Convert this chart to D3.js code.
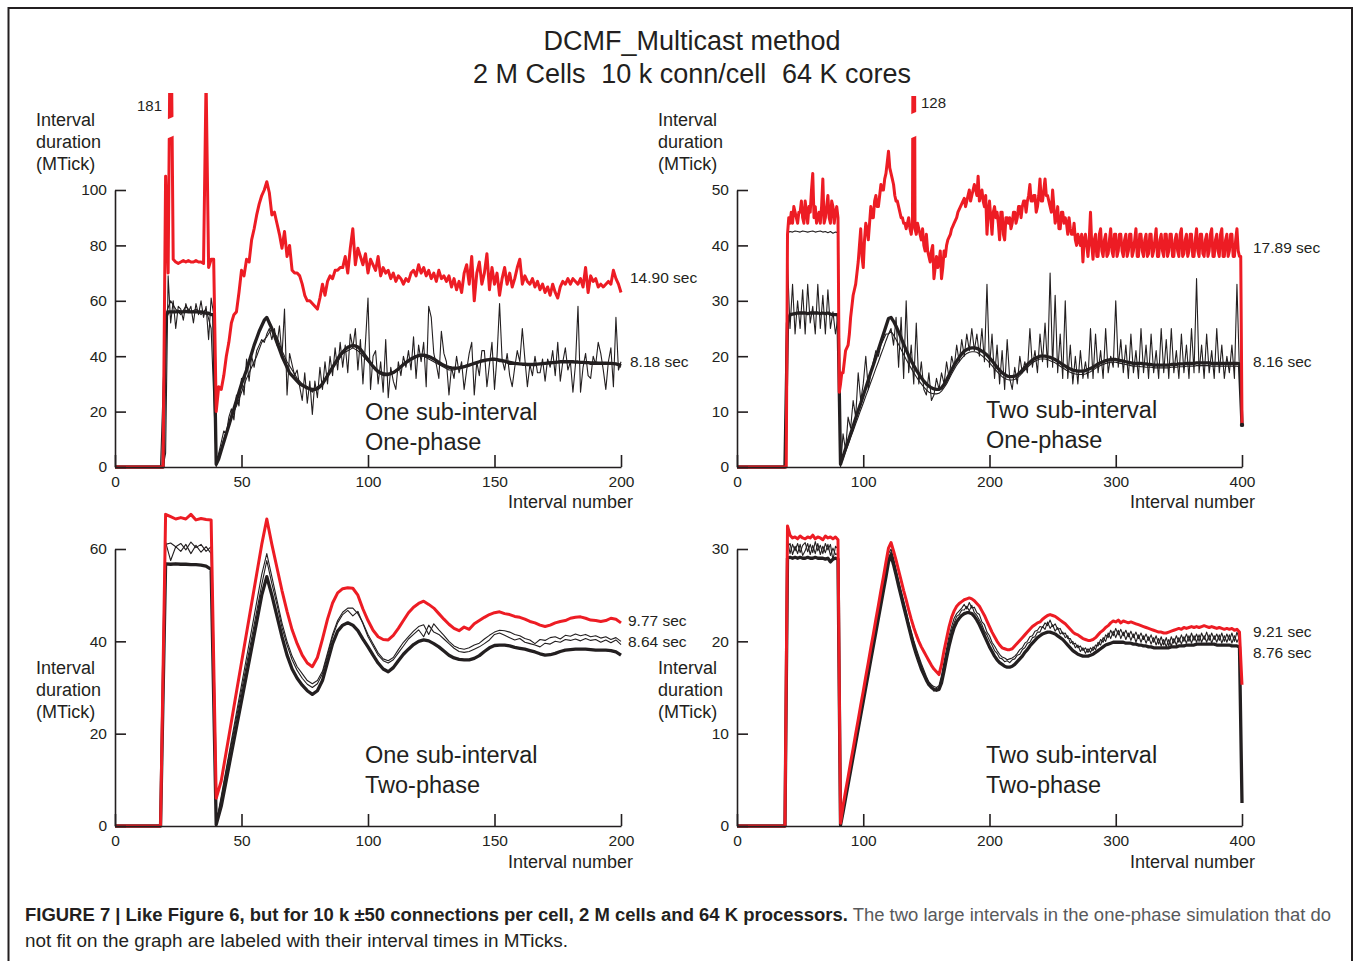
<!DOCTYPE html>
<html><head><meta charset="utf-8">
<script src="https://cdn.jsdelivr.net/npm/d3@7"></script>
<style>
html,body{margin:0;padding:0;background:#fff;}
svg{display:block;}
text{font-family:"Liberation Sans",Arial,Helvetica,sans-serif;fill:#231f20;}
</style></head><body>
<svg id="chart" width="1355" height="961"></svg>
<script>
// ---------- DATA ----------
const titleLines = ["DCMF_Multicast method", "2 M Cells\u2002\u200a10 k conn/cell\u2002\u200a64 K cores"];
const yLabelLines = ["Interval", "duration", "(MTick)"];
const xLabel = "Interval number";
const panelNotes = [["One sub-interval","One-phase"],["Two sub-interval","One-phase"],["One sub-interval","Two-phase"],["Two sub-interval","Two-phase"]];
const endLabels = [["14.90 sec","8.18 sec"],["17.89 sec","8.16 sec"],["9.77 sec","8.64 sec"],["9.21 sec","8.76 sec"]];
const offChartLabels = ["181","128"];
const xTicks200 = [0,50,100,150,200];
const xTicks400 = [0,100,200,300,400];
const yTicksP1 = [0,20,40,60,80,100];
const yTicksP2 = [0,10,20,30,40,50];
const yTicksP3 = [0,20,40,60];
const yTicksP4 = [0,10,20,30];
const captionBold = "FIGURE 7 | Like Figure 6, but for 10 k \u00b150 connections per cell, 2 M cells and 64 K processors.";
const captionRest1 = " The two large intervals in the one-phase simulation that do";
const captionLine2 = "not fit on the graph are labeled with their interval times in MTicks.";

// Panel 1: one sub-interval, one-phase (interval step 1)
const p1Red = [
0,0,0,0,0,0,0,0,0,0,0,0,0,0,0,0,0,0,0,0,
105,70,181,75,74,73.5,74,74.5,74,74.5,74,74,74.5,74,74,73.5,140,72,75,75,
20,29,28,33,40,45,52,55,56,63,71,69,75,74,82,86,91,95,98,100,
103,99,91,92,88,84,79,85,76,80,71,70,70,69,66,62,60,60,59,58,
57,61,66,62,67,69,68,71,71,72,72,76,70,79,86,73,79,76,73,77,
70,75,73,71,76,69,72,70,71,68,70,67,69,68,66,68,67,70,71,69,
73,70,72,69,71,68,70,67,71,68,69,67,69,65,68,64,67,63,70,73,
66,76,60,70,74,66,70,77,64,72,66,70,62,68,72,66,70,65,68,72,
75,66,69,67,66,68,65,67,64,66,63,65,62,66,63,61,65,67,66,68,
66,68,67,66,68,65,72,63,69,67,68,65,66,65,66,67,66,71,68,66,
63];
const p1Thick = [
0,0,0,0,0,0,0,0,0,0,0,0,0,0,0,0,0,0,0,0,
54,56,56,56,56,56.2,56,56,56.2,56,56,56,56,56,56,55.8,55.5,55.5,55,55,
1,3,6,9,12,15,18,21,24,27,30,32.5,35,38,41,44,46.5,49,51,53,
54,52,50,47.5,45,42.5,40,38,36,34,33,32,31,30,29.5,29,28.5,28.2,28,28,
28.3,29,30,31.5,33,34.5,36,37.5,39,40.5,41.5,42.5,43.2,43.6,43.8,43.7,43.3,42.5,41.3,40,
38.7,37.5,36.3,35.3,34.5,34,33.7,33.5,33.5,33.7,34.1,34.7,35.4,36.2,37,37.7,38.4,39,39.5,39.9,
40.2,40.4,40.4,40.2,39.9,39.5,39,38.4,37.8,37.2,36.7,36.3,36,35.8,35.7,35.7,35.8,36,36.2,36.5,
36.8,37.1,37.4,37.7,38,38.3,38.5,38.7,38.8,38.9,38.9,38.8,38.6,38.4,38.2,38,37.8,37.6,37.4,37.3,
37.2,37.1,37.1,37,37,37,37,37.1,37.2,37.3,37.4,37.5,37.6,37.7,37.8,37.9,38,38,38,38,
38,38,37.9,37.9,37.8,37.8,37.7,37.7,37.6,37.6,37.6,37.5,37.5,37.5,37.5,37.4,37.4,37.3,37.2,37,
36.5];
const p1ThinA = [
0,0,0,0,0,0,0,0,0,0,0,0,0,0,0,0,0,0,0,0,
5,69,52,60,50,58,57,53,59,56,58,52,59,55,60,54,58,46,61,55,
0,5,9,13,12,18,21,17,26,22,32,26,39,31,40,36,42,44,46,45,
48,50,46,50,44,51,40,57,26,41,37,33,35,29,24,34,23,31,19,31,
25,36,28,38,30,40,33,43,35,45,36,44,34,48,43,50,35,46,30,45,
61,28,40,42,30,38,27,46,25,36,31,28,38,33,40,36,42,35,47,32,
44,38,45,29,58,54,41,37,32,49,41,38,26,36,32,40,34,38,28,35,
41,45,26,38,33,42,42,29,37,45,28,40,59,39,35,41,33,29,36,42,
38,50,39,29,37,33,40,34,34,39,31,39,36,42,33,45,31,38,43,35,
38,27,37,58,27,36,41,33,32,40,37,45,41,35,28,38,43,29,54,35,
38];
// interval step 2
const p1ThinB = [
0,0,0,0,0,0,0,0,0,0,
55,60,57,55,58,56,57,55,57,50,
2,7,13,18,22,27,32,36,40,45,
47,50,47,42,38,35,32,30,29,27,
29,30,33,36,38,41,42,43,42,40,
38,36,34,33,33,34,35,37,38,39,
40,40,39,38,37,36,35,35,36,36,
37,37,38,38,39,39,38,38,37,37,
37,37,37,37,37,37,38,38,38,38,
38,38,38,38,37,37,37,37,37,37,
36];

// Panel 2: two sub-interval, one-phase
// red: interval step 1
const p2Red = [
0,0,0,0,0,0,0,0,0,0,0,0,0,0,0,0,0,0,0,0,
0,0,0,0,0,0,0,0,0,0,0,0,0,0,0,0,0,0,0,0,
42,45,44,46,44,47,46,45,44,46,46,48,45,44,48,46,44,47,46,50,
53,45,47,44,45,46,44,47,52,44,45,47,49,45,44,48,47,44,46,47,
45,13.5,15,17,17,19,21,21.5,22,24,27,29,31,32,33,35,37,40,43,38,
36,41,44,43,41,44,47,45,45,48,49,47,47,49,51,50,50,52,53,55,
57,54,53,52,51,49,48,48,47,46,45,45,44,44,43,44,45,43,42,44,
128,43,42,44,43,42,41,43,40,39,42,39,38,37,39,40,34,36,38,36,
37,39,34,36,39,38,40,41,41.5,42,43,43.5,44,44.5,45,46,46.5,47,47.5,48,
48.5,47,48,49,50,48,49,50,51,50,49,52.5,48,49,50,48,47,49,42,46,
48,45,42,46,47,45,46,44,41,46,46,42,41,45,45,44,45,43,44,46,
46,44,45,47,47,45,47,48,48,46,48,49,51,48,48,49,49,46,47,49,
52,48,48,50,52,49,49,48,47,46,50,47,44,45,47,43,43,46,46,44,
45,44,42,45,43,42,42,44,41,40,42,41,40,42,37,41,42,40,38,41,
46,40,37.5,41,42,38,38,42,43,39,38,41,42,38,38.5,41,43,39,38,42,
42,38,39,42,42,39,38,41,42,38,39,42,42,38,39,41,43,38,38,42,
42,39,38,41,42,38,38.5,42,42,38,39,41,43,38,38,41,42,39,38,42,
42,38,39,42,42,38,38,41,42,39,38,42,43,38,38.5,41,42,38,39,42,
42,38,38,41,43,39,38,42,42,38.5,38,41,42,38,39,42,43,38,38,41,
42,39,38,42,43,38,38,41,42,38,39,42,42,38,38,41,43,39,38,38,
7.7];
// black series: interval step 2
const p2Thick = [
0,0,0,0,0,0,0,0,0,0,0,0,0,0,0,0,0,0,0,0,
26,27.5,27.6,27.7,27.8,27.8,27.8,27.8,27.7,27.8,27.8,27.8,27.8,27.7,27.8,27.7,27.8,27.6,27.5,27.5,
27.5,0.5,1.9,3.3,4.6,6,7.4,8.8,10.2,11.5,12.9,14.3,15.7,17.1,18.4,19.8,21.2,22.6,24,25.4,
26.8,27,26.3,25.4,24.4,23.3,22.2,21.1,20.1,19.2,18.3,17.5,16.8,16.1,15.5,15,14.6,14.3,14.1,14,
14,14.3,14.9,15.7,16.6,17.5,18.4,19.1,19.8,20.4,20.9,21.2,21.4,21.5,21.5,21.4,21.2,20.9,20.6,20.2,
19.7,19.2,18.6,18,17.5,17,16.7,16.4,16.3,16.3,16.4,16.6,17,17.5,18,18.5,18.9,19.3,19.6,19.8,
20,20,20,19.9,19.8,19.6,19.4,19.1,18.8,18.5,18.2,17.9,17.7,17.5,17.4,17.3,17.3,17.3,17.4,17.6,
17.8,18,18.3,18.6,18.8,19,19.2,19.3,19.4,19.4,19.4,19.3,19.2,19.1,19,18.9,18.8,18.7,18.7,18.7,
18.7,18.6,18.6,18.5,18.5,18.4,18.4,18.4,18.4,18.4,18.4,18.4,18.5,18.5,18.5,18.6,18.6,18.6,18.7,18.7,
18.7,18.7,18.8,18.8,18.8,18.8,18.8,18.8,18.7,18.7,18.7,18.7,18.7,18.7,18.7,18.7,18.7,18.7,18.7,18.6,
7.6];
const p2ThinA = [
0,0,0,0,0,0,0,0,0,0,0,0,0,0,0,0,0,0,0,0,
37,25,33,24,30,25,32,24,33,26,29,24,33,25,31,24,32,25,28,24,
27,0,6,3,9,7,12,9,17,12,15,20,14,17,19,21,20,22,23,24,
24,25,22,27,18,27,16,30,17,22,15,26,15,19,14,13,17,12,13,16,
14,17,15,19,16,20,18,22,19,23,20,24,21,25,21,24,20,25,19,33,
18,24,16,22,15,21,14,23,16,14,18,15,20,17,19,17,25,18,21,17,
24,19,26,18,35,18,31,17,24,16,30,16,22,15,20,15,21,16,19,16,
25,16,24,17,21,16,25,17,20,18,30,18,23,17,22,16,24,17,21,16,
25,17,22,16,24,17,21,16,25,17,23,16,25,17,21,16,24,17,22,16,
25,17,34,17,22,16,24,17,21,16,25,17,22,16,20,17,22,16,33,17,
7.6];
const p2ThinB = [
0,0,0,0,0,0,0,0,0,0,0,0,0,0,0,0,0,0,0,0,
42.3,42.5,42.4,42.6,42.5,42.4,42.6,42.5,42.4,42.5,42.6,42.4,42.5,42.6,42.4,42.5,42.3,42.5,42.2,42.4,
42.3,0.5,1.5,2.8,4,5.3,6.5,7.8,9,10.3,11.5,12.8,14,15.3,16.5,17.8,19,20.3,21.5,22.8,
24,24.5,23.8,23,22.1,21.2,20.3,19.4,18.6,17.8,17,16.3,15.6,15,14.4,13.9,13.5,13.3,13.2,13.2,
13.3,13.7,14.3,15,15.9,16.8,17.6,18.4,19,19.6,20.1,20.5,20.7,20.8,20.8,20.7,20.4,20.1,19.7,19.3,
18.8,18.3,17.7,17.2,16.7,16.3,16,15.8,15.7,15.7,15.8,16.1,16.5,17,17.5,18,18.4,18.8,19.1,19.3,
19.5,19.5,19.5,19.4,19.2,19,18.8,18.5,18.2,17.9,17.6,17.3,17.1,16.9,16.8,16.7,16.7,16.7,16.8,17,
17.2,17.5,17.8,18.1,18.3,18.5,18.7,18.8,18.9,18.9,18.9,18.8,18.7,18.6,18.5,18.4,18.3,18.2,18.2,18.2,
18.1,18.1,18,18,18,17.9,17.9,17.9,17.9,17.9,17.9,17.9,18,18,18,18.1,18.1,18.1,18.2,18.2,
18.2,18.2,18.3,18.3,18.3,18.3,18.3,18.3,18.2,18.2,18.2,18.2,18.2,18.2,18.2,18.2,18.2,18.2,18.2,18.1,
7.6];

// Panel 3: one sub-interval, two-phase (interval step 2)
const p3Red = [
0,0,0,0,0,0,0,0,0,0,
67.5,67,66.5,66.8,66.5,67.5,66.3,66.6,66.4,66.3,
6,9.8,16.2,22.6,29,35.4,41.8,48.2,54.6,61,
66.5,61,56,51,46.5,42.5,39.5,37,35.3,34.5,
36.5,40.5,44.8,48.3,50.5,51.4,51.6,51.5,50,47,
44.5,42.4,41,40.4,40.3,41.3,42.8,44.5,46.2,47.4,
48.2,48.7,48,47.2,46,44.8,43.7,42.8,42.3,43.1,
42.6,43.8,44.5,45.2,45.8,46.2,46.4,46,45.8,45.4,
45.2,44.8,44.3,44,43.5,43.2,43.5,44,44.3,44.5,
45,45.2,45.3,45,44.6,44.5,44.3,44.5,45,44.8,
44];
const p3Thick = [
0,0,0,0,0,0,0,0,0,0,
56.8,56.7,56.8,56.7,56.7,56.6,56.6,56.5,56.3,55.6,
0.3,4.3,10,15.7,21.4,27.1,32.8,38.5,44.2,50,
54,50,45.5,41,37,34,32,30.5,29.3,28.5,
29.3,31.5,35.5,39.5,42.2,43.5,44,43.5,42.3,40.5,
38.8,37,35.3,34,33.4,34.3,35.8,37.2,38.3,39.3,
40,40.3,40.1,39.5,38.8,37.9,37,36.4,36.1,36,
36,36.3,36.9,37.8,38.6,39.1,39.2,39.2,39,38.7,
38.5,38.3,38,37.7,37.3,37,37.1,37.4,37.8,38.1,
38.2,38.3,38.3,38.3,38.2,38.1,38.1,38.1,38,37.7,
37];
const p3ThinA = [
0,0,0,0,0,0,0,0,0,0,
61,61.3,60.5,61.2,59.8,61.5,60.3,61,59.5,60.5,
0.5,6.5,12.5,18.5,24.5,30.5,36.5,42.5,48.5,54.5,
59,54,49,44,40,36.8,34.5,33,31.5,30.8,
31.5,33.5,37.5,41.5,44.5,46.3,47.2,47.2,46,44,
41.5,39.5,37.5,36.2,35.8,36.5,38.2,39.8,41,42.2,
43.2,43.6,41.5,43.8,42.5,41.3,40,39,38.5,38.3,
38.6,39.2,39.6,40.5,41.3,42,42.4,42.3,42,41.5,
41.2,40.6,40.3,39.5,40.4,40.2,40.8,41,40.5,41.3,
41.1,41.6,41.2,41.5,41,41.2,40.7,41,40.4,40.8,
40];
const p3ThinB = [
0,0,0,0,0,0,0,0,0,0,
61.5,57.5,60.5,59.5,61,59,60.8,59.3,60.5,59,
0.4,6,12,17.8,23.5,29.3,35,40.7,46.5,52.3,
57.5,52.5,48,43,39.2,36,33.7,32,30.7,30,
30.8,33,37,41,44,45.8,46.7,45.5,46.5,43.8,
41,39,37,35.8,35.3,36,37.5,39,40.5,41.5,
42.5,41,43.5,42,41.5,40.5,39.5,38.5,37.8,37.6,
37.8,38.3,38.8,39.5,40.3,41.5,41.8,41.3,40.8,40.3,
40.6,39.8,39.5,39.2,38.8,39.6,39.4,40,39.8,40.4,
40.2,40.5,40.1,40.6,40.2,40.4,39.8,40.3,39.7,40.3,
39.3];

// Panel 4: two sub-interval, two-phase (interval step 2)
const p4Red = [
0,0,0,0,0,0,0,0,0,0,0,0,0,0,0,0,0,0,0,0,
32.5,31.5,31.2,31.3,31.1,31.4,31.2,31.1,31.3,31.2,31.5,31.1,31.3,31.2,31,31.4,31.2,31.3,31.1,31.3,
31,0.3,2.2,3.8,5.3,6.9,8.4,10,11.5,13.1,14.6,16.2,17.7,19.3,20.8,22.4,23.9,25.5,27,28.6,
30.1,30.7,29.8,28.8,27.7,26.6,25.5,24.5,23.4,22.4,21.5,20.7,20,19.4,18.9,18.4,17.9,17.4,17,16.7,
16.4,17.5,19,20.3,21.6,22.6,23.3,23.8,24.1,24.3,24.5,24.6,24.7,24.6,24.4,24.1,23.8,23.3,22.8,22.2,
21.6,21,20.5,20,19.6,19.3,19.2,19.1,19.1,19.2,19.5,19.8,20.1,20.4,20.7,21,21.3,21.6,21.8,22,
22.1,22.4,22.6,22.8,22.9,22.8,22.7,22.5,22.3,22.1,21.9,21.6,21.3,21,20.8,20.7,20.5,20.3,20.2,20.1,
20.1,20.2,20.4,20.7,21,21.2,21.5,21.7,22,22.2,22.1,22.3,22,22.2,22.1,22,22.1,22,21.9,21.8,
21.7,21.6,21.5,21.4,21.3,21.2,21.1,21,21,20.9,20.9,21,21.1,21.2,21.3,21.4,21.3,21.5,21.4,21.5,
21.6,21.5,21.6,21.5,21.6,21.7,21.6,21.5,21.6,21.5,21.4,21.5,21.4,21.3,21.4,21.3,21.4,21.2,21.3,21,
15.3];
const p4Thick = [
0,0,0,0,0,0,0,0,0,0,0,0,0,0,0,0,0,0,0,0,
29,29.1,29,29.1,29,29.1,29,29,29.1,29,29,29.1,29,29,29,28.9,29,28.6,28.9,29,
28.9,0.1,1.5,3,4.5,6,7.5,9,10.5,12,13.5,15,16.5,18,19.5,21,22.5,24,25.5,27,
28.6,29.3,28.3,27.2,26,24.9,23.8,22.7,21.6,20.5,19.5,18.6,17.8,17,16.4,15.8,15.3,15,14.8,14.7,
14.8,15.5,16.8,18.2,19.5,20.6,21.5,22.1,22.5,22.8,23,23.1,23.1,23,22.7,22.3,21.8,21.2,20.6,20,
19.4,18.9,18.4,18,17.7,17.5,17.3,17.2,17.2,17.3,17.5,17.8,18.1,18.4,18.8,19.1,19.5,19.8,20.1,20.4,
20.6,20.8,20.9,21,21,20.9,20.8,20.6,20.4,20.2,19.9,19.6,19.3,19,18.8,18.6,18.5,18.4,18.4,18.4,
18.5,18.6,18.8,19,19.2,19.4,19.6,19.7,19.8,19.9,19.9,19.9,19.9,19.9,19.8,19.8,19.8,19.7,19.7,19.6,
19.6,19.5,19.5,19.4,19.4,19.3,19.3,19.3,19.3,19.3,19.3,19.3,19.4,19.4,19.4,19.5,19.5,19.5,19.6,19.6,
19.6,19.6,19.7,19.7,19.7,19.7,19.7,19.7,19.7,19.7,19.6,19.6,19.6,19.6,19.6,19.6,19.5,19.5,19.5,19.4,
2.5];
const p4ThinA = [
0,0,0,0,0,0,0,0,0,0,0,0,0,0,0,0,0,0,0,0,
31,29.5,30.5,29.8,30.6,29.6,30.4,30.7,29.7,30.5,29.6,30.8,29.8,30.4,29.5,30.6,29.9,30.5,28.8,30.3,
30,0.2,1.7,3.3,4.8,6.4,7.9,9.5,11,12.6,14.1,15.7,17.2,18.8,20.3,21.9,23.4,25,26.5,28,
29.5,30,29,27.8,26.6,25.5,24.4,23.3,22.1,21.1,20.1,19.2,18.4,17.6,16.9,16.2,15.6,15.3,15.1,15,
15.2,16.3,17.8,19.2,20.6,21.6,22.5,23,23.3,23.6,24,23.5,24.2,23.6,23.7,23.1,22.9,22.1,21.8,21,
20.6,19.9,19.5,19,18.6,18.3,18.2,18,18.1,18.2,18.4,18.7,19.1,19.3,19.8,20,20.5,20.6,21.1,21.2,
21.6,21.5,22,21.7,22.3,21.6,21.9,21.3,21.4,20.8,20.9,20.3,20.3,19.7,19.8,19.3,19.5,19,19.3,18.8,
19.3,19,19.6,19.5,20.2,19.9,20.7,20.4,21.2,20.6,21.4,20.7,21.3,20.6,21.2,20.5,21.1,20.4,21,20.3,
20.9,20.2,20.8,20.1,20.7,19.9,20.6,19.7,20.5,19.6,20.4,19.5,20.5,19.8,20.6,19.9,20.7,20,20.8,20,
20.9,20.1,20.8,20,20.9,20.2,21,20.1,20.9,20.2,20.8,20.1,20.9,20,20.8,20.1,20.9,20,21,20.2,
2.5];
const p4ThinB = [
0,0,0,0,0,0,0,0,0,0,0,0,0,0,0,0,0,0,0,0,
30.2,30.6,29.4,30.3,29.5,30.5,29.3,29.8,30.6,29.4,30.4,29.5,30.6,29.4,30.3,29.6,30.5,29.3,30.1,29.4,
29.5,0.1,1.6,3.1,4.6,6.2,7.7,9.2,10.7,12.3,13.8,15.3,16.8,18.4,19.9,21.4,22.9,24.5,26,27.5,
29,29.7,28.7,27.5,26.3,25.2,24.1,23,21.9,20.8,19.8,18.9,18.1,17.3,16.6,16,15.3,15.2,14.6,14.9,
15,16,17.4,18.8,20.1,21.2,22,22.7,22.9,23.4,23.4,23.8,23.3,23.9,23.1,22.8,22.3,21.8,21.1,20.7,
20.1,19.6,19,18.7,18.2,18.1,17.8,17.9,17.7,18,18.1,18.5,18.6,19.1,19.3,19.8,19.9,20.4,20.5,21,
21,21.6,21.3,22.1,21.4,21.8,21.1,21.5,20.8,21,20.4,20.6,19.8,20,19.3,19.6,18.9,19.3,18.7,19.2,
18.8,19.4,19.1,19.9,19.6,20.4,20,20.9,20.3,21.1,20.4,21.2,20.3,21,20.2,20.9,20.1,20.8,19.9,20.7,
19.9,20.6,19.8,20.5,19.7,20.4,19.6,20.3,19.5,20.2,19.4,20.2,19.5,20.3,19.6,20.4,19.7,20.5,19.8,20.6,
19.8,20.6,19.9,20.7,19.9,20.6,19.9,20.7,19.8,20.6,19.9,20.7,19.8,20.6,19.9,20.7,19.8,20.6,19.9,20.5,
2.5];

// ---------- DRAWING ----------
const RED = "#ed1c24", INK = "#231f20";
const svg = d3.select("#chart");
svg.append("rect").attr("width",1355).attr("height",961).attr("fill","#fff");

// frame
svg.append("path").attr("d","M8.5,961 L8.5,8 L1352,8 L1352,961")
  .attr("fill","none").attr("stroke",INK).attr("stroke-width",2);

// titles
svg.selectAll("text.title").data(titleLines).enter().append("text")
  .attr("class","title").attr("x",692).attr("y",(d,i)=>50+i*33)
  .attr("text-anchor","middle").style("font-size","27px").text(d=>d);

const panels = [
  {g:{left:115,right:621,top:190,bottom:467,clipTop:93}, xd:[0,200], yd:[0,100], xt:xTicks200, yt:yTicksP1,
   series:[{v:p1ThinB,s:2,k:"thin"},{v:p1ThinA,s:1,k:"thin"},{v:p1Thick,s:1,k:"thick"},{v:p1Red,s:1,k:"red"}],
   ylab:{x:36,y:126}, xlab:{x:633,y:508}, note:{x:365,y:420}, ends:[{x:630,y:283},{x:630,y:367}],
   brk:{i:22,y1:118,y2:137,lx:162,ly:111}},
  {g:{left:737,right:1242,top:190,bottom:467,clipTop:96}, xd:[0,400], yd:[0,50], xt:xTicks400, yt:yTicksP2,
   series:[{v:p2ThinB,s:2,k:"thin"},{v:p2ThinA,s:2,k:"thin"},{v:p2Thick,s:2,k:"thick"},{v:p2Red,s:1,k:"red"}],
   ylab:{x:658,y:126}, xlab:{x:1255,y:508}, note:{x:986,y:418}, ends:[{x:1253,y:253},{x:1253,y:367}],
   brk:{i:140,y1:113,y2:137,lx:921,ly:108}, dot:true},
  {g:{left:115,right:621,top:549,bottom:826,clipTop:500}, xd:[0,200], yd:[0,60], xt:xTicks200, yt:yTicksP3,
   series:[{v:p3ThinB,s:2,k:"thin"},{v:p3ThinA,s:2,k:"thin"},{v:p3Thick,s:2,k:"thick"},{v:p3Red,s:2,k:"red"}],
   ylab:{x:36,y:674}, xlab:{x:633,y:868}, note:{x:365,y:763}, ends:[{x:628,y:626},{x:628,y:647}]},
  {g:{left:737,right:1242,top:549,bottom:826,clipTop:500}, xd:[0,400], yd:[0,30], xt:xTicks400, yt:yTicksP4,
   series:[{v:p4ThinB,s:2,k:"thin"},{v:p4ThinA,s:2,k:"thin"},{v:p4Thick,s:2,k:"thick"},{v:p4Red,s:2,k:"red"}],
   ylab:{x:658,y:674}, xlab:{x:1255,y:868}, note:{x:986,y:763}, ends:[{x:1253,y:637},{x:1253,y:658}]}
];
const styleOf = {thin:{c:INK,w:1.1}, thick:{c:INK,w:3.3}, red:{c:RED,w:3}};

panels.forEach((p,pi)=>{
  const x = d3.scaleLinear().domain(p.xd).range([p.g.left,p.g.right]);
  const y = d3.scaleLinear().domain(p.yd).range([p.g.bottom,p.g.top]);
  const cid = "clip"+pi;
  svg.append("clipPath").attr("id",cid).append("rect")
    .attr("x",p.g.left-3).attr("y",p.g.clipTop)
    .attr("width",p.g.right-p.g.left+6).attr("height",p.g.bottom-p.g.clipTop+4);
  const gl = svg.append("g").attr("clip-path","url(#"+cid+")");
  p.series.forEach(s=>{
    const st = styleOf[s.k];
    const line = d3.line().x((d,i)=>x(i*s.s)).y(d=>y(d));
    gl.append("path").datum(s.v).attr("d",line).attr("fill","none")
      .attr("stroke",st.c).attr("stroke-width",st.w)
      .attr("stroke-linejoin","round").attr("stroke-linecap","butt");
  });
  if (p.brk){
    const cx = x(p.brk.i);
    svg.append("polygon")
      .attr("points",[[cx-7,p.brk.y1+3],[cx+7,p.brk.y1-3],[cx+7,p.brk.y2-3],[cx-7,p.brk.y2+3]].map(a=>a.join(",")).join(" "))
      .attr("fill","#fff");
    svg.append("text").attr("x",p.brk.lx).attr("y",p.brk.ly)
      .attr("text-anchor",pi===0?"end":"start").style("font-size","15px").text(offChartLabels[pi]);
  }
  if (p.dot){
    const last = p.series[2].v;
    svg.append("circle").attr("cx",x((last.length-1)*2)).attr("cy",y(last[last.length-1]))
      .attr("r",2.2).attr("fill",INK);
  }
  // axes
  const ya = d3.axisLeft(y).tickValues(p.yt).tickSizeInner(-11).tickSizeOuter(0).tickPadding(8);
  const xa = d3.axisBottom(x).tickValues(p.xt).tickSizeInner(-12).tickSizeOuter(0).tickPadding(9);
  const gy = svg.append("g").attr("transform",`translate(${p.g.left},0)`).call(ya);
  const gx = svg.append("g").attr("transform",`translate(0,${p.g.bottom})`).call(xa);
  [gy,gx].forEach(g=>{
    g.select(".domain").attr("stroke",INK).attr("stroke-width",1.6);
    g.selectAll(".tick line").attr("stroke",INK).attr("stroke-width",1.6);
    g.selectAll(".tick text").attr("fill",INK)
      .style("font-family","'Liberation Sans',Arial,sans-serif").style("font-size","15.5px");
  });
  // labels
  svg.selectAll(null).data(yLabelLines).enter().append("text")
    .attr("x",p.ylab.x).attr("y",(d,i)=>p.ylab.y+i*22).style("font-size","18px").text(d=>d);
  svg.append("text").attr("x",p.xlab.x).attr("y",p.xlab.y).attr("text-anchor","end")
    .style("font-size","18px").text(xLabel);
  svg.selectAll(null).data(panelNotes[pi]).enter().append("text")
    .attr("x",p.note.x).attr("y",(d,i)=>p.note.y+i*30).style("font-size","23.5px").text(d=>d);
  p.ends.forEach((e,i)=>{
    svg.append("text").attr("x",e.x).attr("y",e.y).style("font-size","15.5px").text(endLabels[pi][i]);
  });
});

// caption
const cap1 = svg.append("text").attr("x",25).attr("y",921)
  .attr("textLength",1306).attr("lengthAdjust","spacingAndGlyphs")
  .style("font-family","'Liberation Sans Narrow','Liberation Sans',Arial,sans-serif").style("font-size","17.5px");
cap1.append("tspan").style("font-weight","bold").attr("fill","#231f20").text(captionBold);
cap1.append("tspan").attr("fill","#58595b").text(captionRest1);
svg.append("text").attr("x",25).attr("y",947)
  .attr("textLength",543).attr("lengthAdjust","spacingAndGlyphs")
  .style("font-family","'Liberation Sans Narrow','Liberation Sans',Arial,sans-serif").style("font-size","17.5px")
  .attr("fill","#58595b").text(captionLine2);
</script>
</body></html>
